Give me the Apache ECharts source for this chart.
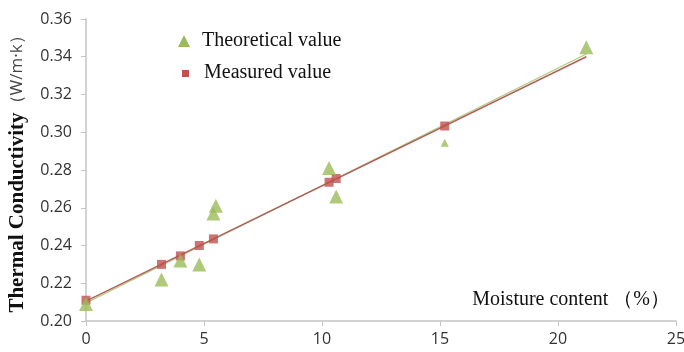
<!DOCTYPE html>
<html><head><meta charset="utf-8">
<script src="https://cdn.jsdelivr.net/npm/echarts@6/dist/echarts.min.js"></script>
<style>html,body{margin:0;padding:0;background:#fff}#c{width:684px;height:352px}</style>
</head><body><div id="c"></div>
<script>
var theoX = [0, 3.2, 4.0, 4.8, 5.4, 5.5, 10.3, 10.6, 15.2, 21.2];
var theoY = [0.209, 0.222, 0.232, 0.230, 0.257, 0.261, 0.281, 0.266, 0.2945, 0.345];
var measX = [0, 3.2, 4.0, 4.8, 5.4, 10.3, 10.6, 15.2];
var measY = [0.211, 0.230, 0.2345, 0.240, 0.2435, 0.2735, 0.2755, 0.3033];
var theoFitX = [0, 21.2];
var theoFitY = [0.2095, 0.3415];
var measFitX = [0, 21.2];
var measFitY = [0.2105, 0.3400];
var xTicks = [0, 5, 10, 15, 20, 25];
var yTicks = [0.20, 0.22, 0.24, 0.26, 0.28, 0.30, 0.32, 0.34, 0.36];

function zip(a, b) { return a.map(function (v, i) { return [v, b[i]]; }); }

var chart = echarts.init(document.getElementById('c'));
chart.setOption({
  animation: false,
  grid: { left: 86, right: 8, top: 19, bottom: 31, containLabel: false, outerBoundsMode: 'none' },
  xAxis: {
    type: 'value', min: xTicks[0], max: xTicks[xTicks.length - 1], interval: 5,
    axisLine: { lineStyle: { color: '#c4c4c4', width: 1.5 } },
    axisTick: { show: true, length: 5, lineStyle: { color: '#c4c4c4' } },
    splitLine: { show: false },
    axisLabel: { color: '#333', fontSize: 16, fontFamily: 'Open Sans', margin: 10 }
  },
  yAxis: {
    type: 'value', min: yTicks[0], max: yTicks[yTicks.length - 1], interval: 0.02,
    axisLine: { show: true, lineStyle: { color: '#c4c4c4', width: 1.5 } },
    axisTick: { show: true, length: 5, lineStyle: { color: '#c4c4c4' } },
    splitLine: { show: false },
    axisLabel: { color: '#333', fontSize: 16, fontFamily: 'Open Sans', margin: 14,
      formatter: function (v) { return v.toFixed(2); } },
    name: '{a|Thermal Conductivity}{b|（W/m·k）}',
    nameLocation: 'middle', nameGap: 58,
    nameTextStyle: {
      rich: {
        a: { fontFamily: 'Liberation Serif', fontWeight: 'bold', fontSize: 21, color: '#111' },
        b: { fontFamily: 'Open Sans', fontSize: 17, color: '#444' }
      }
    }
  },
  graphic: [
    { type: 'text', right: 14, top: 290, style: { text: 'Moisture content （%）', font: '20px "Liberation Serif"', fill: '#111' } },
    { type: 'text', left: 202, top: 31, style: { text: 'Theoretical value', font: '20px "Liberation Serif"', fill: '#111' } },
    { type: 'text', left: 204, top: 63, style: { text: 'Measured value', font: '20px "Liberation Serif"', fill: '#111' } },
    { type: 'polygon', shape: { points: [[184, 35], [190, 47], [178, 47]] }, style: { fill: '#9bbb59' } },
    { type: 'rect', shape: { x: 182, y: 70, width: 7, height: 7 }, style: { fill: '#c0504d' } }
  ],
  series: [
    { type: 'line', data: zip(theoFitX, theoFitY), symbol: 'none', lineStyle: { color: '#9bbb59', width: 1.2, opacity: 0.8 }, z: 2 },
    { type: 'line', data: zip(measFitX, measFitY), symbol: 'none', lineStyle: { color: '#b0605a', width: 1.4 }, z: 2 },
    { type: 'scatter', name: 'Measured value', data: zip(measX, measY), symbol: 'rect', symbolSize: 9,
      itemStyle: { color: '#c0504d' }, z: 3 },
    { type: 'scatter', name: 'Theoretical value', data: zip(theoX, theoY), symbol: 'triangle',
      symbolSize: function (v, p) { return p.dataIndex === 8 ? 8 : 14; },
      itemStyle: { color: '#9bbb59' }, z: 4 }
  ]
});
</script></body></html>
